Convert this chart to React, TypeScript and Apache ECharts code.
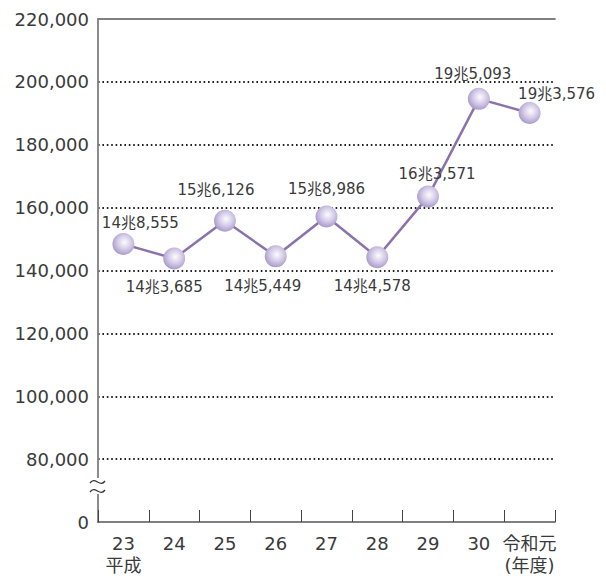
import React, { useEffect, useRef } from "react";
import * as echarts from "echarts";

const categories = ["23\n平成", "24", "25", "26", "27", "28", "29", "30", "令和元\n(年度)"];
// values as plotted in the picture (億円)
const values = [148400, 143800, 155800, 144500, 157200, 144200, 163500, 194600, 190100];
// value labels as printed
const valueLabels = ["14兆8,555", "14兆3,685", "15兆6,126", "14兆5,449", "15兆8,986", "14兆4,578", "16兆3,571", "19兆5,093", "19兆3,576"];
const yTicks = [60000, 80000, 100000, 120000, 140000, 160000, 180000, 200000, 220000];
// label offsets relative to marker center [dx, dy]
const labelOffsets: [number, number][] = [
  [17, -21], [-10, 28], [-9, -31], [-13, 30], [0, -27], [-5, 29], [9, -23], [-6, -25], [27, -19],
];

const FONT = '"DejaVu Sans", "Noto Sans CJK JP", sans-serif';

export default function App() {
  const ref = useRef<HTMLDivElement>(null);
  useEffect(() => {
    if (!ref.current) return;
    const chart = echarts.init(ref.current, null, { renderer: "svg" });
    const markerFill = new echarts.graphic.RadialGradient(0.55, 0.42, 0.62, [
      { offset: 0, color: "#fdfcfe" },
      { offset: 0.5, color: "#d5cbe7" },
      { offset: 1, color: "#a393c6" },
    ]);
    const tilde = (y: number) => ({
      type: "bezierCurve",
      shape: { x1: 90, y1: y + 2, cpx1: 95, cpy1: y - 5, cpx2: 100, cpy2: y + 7, x2: 105, y2: y },
      style: { stroke: "#333", lineWidth: 1.3, fill: "none" },
      z: 101,
    });
    chart.setOption({
      animation: false,
      backgroundColor: "#ffffff",
      grid: { left: 98, right: 51, top: 19, bottom: 57, containLabel: false },
      xAxis: [
        {
          type: "category",
          data: categories,
          boundaryGap: true,
          axisLine: { show: true, lineStyle: { color: "#555", width: 1.5 } },
          axisTick: { show: true, inside: true, length: 12, alignWithLabel: false, lineStyle: { color: "#444", width: 1 } },
          axisLabel: { color: "#3a3a3a", fontSize: 18, fontFamily: FONT, margin: 10, lineHeight: 22, interval: 0 },
          splitLine: { show: false },
        },
        {
          type: "category",
          data: categories,
          position: "top",
          axisLine: { show: true, lineStyle: { color: "#808080", width: 1.8 } },
          axisTick: { show: false },
          axisLabel: { show: false },
        },
      ],
      yAxis: {
        type: "value",
        min: yTicks[0],
        max: yTicks[yTicks.length - 1],
        interval: 20000,
        axisLine: { show: true, lineStyle: { color: "#808080", width: 1.8 } },
        axisTick: { show: false },
        axisLabel: {
          color: "#3a3a3a",
          fontSize: 18,
          fontFamily: FONT,
          margin: 9,
          formatter: (v: number) => (v === yTicks[0] ? "0" : v.toLocaleString("en-US")),
        },
        splitLine: {
          show: true,
          showMinLine: false,
          showMaxLine: false,
          lineStyle: { color: "#222", width: 1.8, type: [1.6, 2.8] },
        },
      },
      series: [
        {
          type: "line",
          data: values.map((v, i) => ({
            value: v,
            label: { offset: labelOffsets[i], formatter: valueLabels[i] },
          })),
          symbol: "circle",
          symbolSize: 22,
          lineStyle: { color: "#8b72ad", width: 2.5 },
          itemStyle: { color: markerFill, borderWidth: 0 },
          label: {
            show: true,
            position: "inside",
            color: "#3a3a3a",
            fontSize: 15,
            fontFamily: FONT,
          },
          z: 5,
        },
      ],
      graphic: [
        {
          type: "rect",
          shape: { x: 92, y: 478, width: 13, height: 16 },
          style: { fill: "#fff" },
          z: 100,
        },
        tilde(481),
        tilde(490),
      ],
    });
    return () => chart.dispose();
  }, []);
  return (
    <div
      ref={ref}
      style={{ position: "fixed", left: 0, top: 0, width: 606, height: 579, background: "#fff" }}
    />
  );
}
